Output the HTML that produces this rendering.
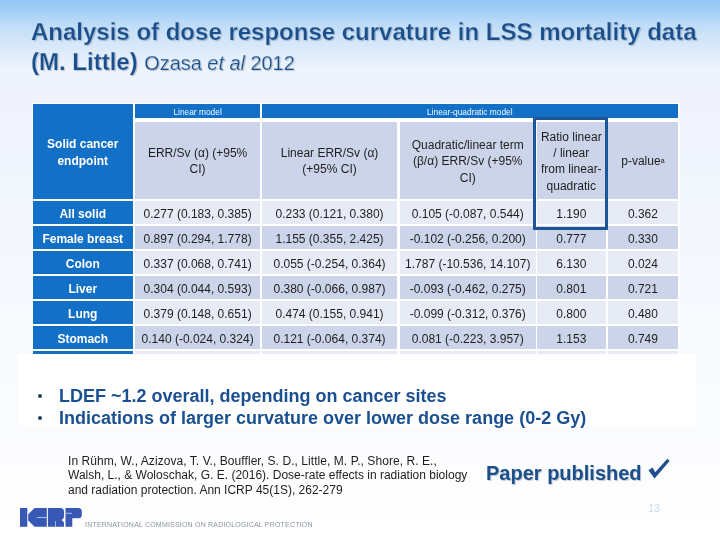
<!DOCTYPE html>
<html><head><meta charset="utf-8"><style>
html,body{margin:0;padding:0;}
body{width:720px;height:540px;position:relative;overflow:hidden;font-family:"Liberation Sans",sans-serif;
background:linear-gradient(to bottom,#92c5f5 0px,#a2cdf6 10px,#b6d8f8 20px,#c6e0f8 30px,#d7e8f9 45px,#e1edfa 55px,#eef4fc 70px,#f0f3fc 100px,#f0f4fd 145px,#f4f8fd 250px,#fbfcfe 445px,#ffffff 530px,#ffffff 540px);}
.c{will-change:transform;position:absolute;display:flex;align-items:center;justify-content:center;text-align:center;font-size:12px;white-space:nowrap;}
.c sup{font-size:7px;vertical-align:2px;}
.t{position:absolute;white-space:nowrap;will-change:transform;}
#title{left:31px;top:16.6px;color:#1a4f8c;-webkit-text-stroke:0.25px rgba(215,232,250,0.8);font-weight:bold;font-size:24px;line-height:29.6px;text-shadow:1px 1px 1px rgba(80,90,110,.35);}
#title .n{font-weight:normal;font-size:19.9px;}
#wbox{position:absolute;left:17.6px;top:353.5px;width:678.4px;height:72.5px;background:#fff;}
.bul{position:absolute;left:0;color:#1b5090;font-weight:bold;font-size:18px;line-height:21.5px;white-space:nowrap;}
.dot{position:absolute;width:4px;height:4px;border-radius:50%;background:#1f3f66;}
#ref{left:67.8px;top:454.4px;font-size:12px;line-height:14.4px;color:#1e1e1e;}
#pp{left:486px;top:462.2px;color:#1a4f8c;font-weight:bold;font-size:20px;text-shadow:1px 1px 1px rgba(80,90,110,.35);}
#pg{left:647.5px;top:502px;color:#c8dae6;font-size:11px;}
#icrpt{left:85px;top:521px;font-size:7px;color:#8a92a2;letter-spacing:0.2px;}
</style></head><body>
<div id="title" class="t">Analysis of dose response curvature in LSS mortality data<br>(M. Little) <span class="n">Ozasa <i>et al</i> 2012</span></div>
<div class="c" style="left:31.5px;top:102.5px;width:647.80px;height:257.50px;background:#fff;"></div>
<div class="c" style="left:33px;top:104px;width:99.50px;height:94.90px;background:#1270c6;color:#fff;font-weight:bold;line-height:17px;padding-top:2.9px;box-sizing:border-box;">Solid cancer<br>endpoint</div>
<div class="c" style="left:134.8px;top:104px;width:125.20px;height:13.80px;background:#1270c6;color:#eefbff;font-size:8.4px;line-height:13.8px;padding-top:4px;box-sizing:border-box;">Linear model</div>
<div class="c" style="left:262.2px;top:104px;width:415.60px;height:13.80px;background:#1270c6;color:#eefbff;font-size:8.4px;line-height:13.8px;padding-top:4px;box-sizing:border-box;">Linear-quadratic model</div>
<div class="c" style="left:134.8px;top:121.7px;width:125.20px;height:77.20px;background:#ccd4ea;color:#1e1e1e;line-height:16.4px;padding-top:1.8px;box-sizing:border-box;">ERR/Sv (&alpha;) (+95%<br>CI)</div>
<div class="c" style="left:262.2px;top:121.7px;width:135.10px;height:77.20px;background:#ccd4ea;color:#1e1e1e;line-height:16.4px;padding-top:1.8px;box-sizing:border-box;">Linear ERR/Sv (&alpha;)<br>(+95% CI)</div>
<div class="c" style="left:399.5px;top:121.7px;width:135.50px;height:77.20px;background:#ccd4ea;color:#1e1e1e;line-height:16.4px;padding-top:1.8px;box-sizing:border-box;">Quadratic/linear term<br>(&beta;/&alpha;) ERR/Sv (+95%<br>CI)</div>
<div class="c" style="left:537.2px;top:121.7px;width:68.60px;height:77.20px;background:#ccd4ea;color:#1e1e1e;line-height:16.4px;padding-top:1.8px;box-sizing:border-box;">Ratio linear<br>/ linear<br>from linear-<br>quadratic</div>
<div class="c" style="left:608px;top:121.7px;width:69.80px;height:77.20px;background:#ccd4ea;color:#1e1e1e;line-height:16.4px;padding-top:1.8px;box-sizing:border-box;">p-value<sup>a</sup></div>
<div class="c" style="left:33px;top:201px;width:99.50px;height:22.70px;background:#1270c6;color:#fff;font-weight:bold;padding-top:2.6px;box-sizing:border-box;">All solid</div>
<div class="c" style="left:134.8px;top:201px;width:125.20px;height:22.70px;background:#e7ebf6;color:#1e1e1e;padding-top:2.6px;box-sizing:border-box;">0.277 (0.183, 0.385)</div>
<div class="c" style="left:262.2px;top:201px;width:135.10px;height:22.70px;background:#e7ebf6;color:#1e1e1e;padding-top:2.6px;box-sizing:border-box;">0.233 (0.121, 0.380)</div>
<div class="c" style="left:399.5px;top:201px;width:135.50px;height:22.70px;background:#e7ebf6;color:#1e1e1e;padding-top:2.6px;box-sizing:border-box;">0.105 (-0.087, 0.544)</div>
<div class="c" style="left:537.2px;top:201px;width:68.60px;height:22.70px;background:#e7ebf6;color:#1e1e1e;padding-top:2.6px;box-sizing:border-box;">1.190</div>
<div class="c" style="left:608px;top:201px;width:69.80px;height:22.70px;background:#e7ebf6;color:#1e1e1e;padding-top:2.6px;box-sizing:border-box;">0.362</div>
<div class="c" style="left:33px;top:226px;width:99.50px;height:22.70px;background:#1270c6;color:#fff;font-weight:bold;padding-top:2.6px;box-sizing:border-box;">Female breast</div>
<div class="c" style="left:134.8px;top:226px;width:125.20px;height:22.70px;background:#ccd4ea;color:#1e1e1e;padding-top:2.6px;box-sizing:border-box;">0.897 (0.294, 1.778)</div>
<div class="c" style="left:262.2px;top:226px;width:135.10px;height:22.70px;background:#ccd4ea;color:#1e1e1e;padding-top:2.6px;box-sizing:border-box;">1.155 (0.355, 2.425)</div>
<div class="c" style="left:399.5px;top:226px;width:135.50px;height:22.70px;background:#ccd4ea;color:#1e1e1e;padding-top:2.6px;box-sizing:border-box;">-0.102 (-0.256, 0.200)</div>
<div class="c" style="left:537.2px;top:226px;width:68.60px;height:22.70px;background:#ccd4ea;color:#1e1e1e;padding-top:2.6px;box-sizing:border-box;">0.777</div>
<div class="c" style="left:608px;top:226px;width:69.80px;height:22.70px;background:#ccd4ea;color:#1e1e1e;padding-top:2.6px;box-sizing:border-box;">0.330</div>
<div class="c" style="left:33px;top:251.2px;width:99.50px;height:22.60px;background:#1270c6;color:#fff;font-weight:bold;padding-top:2.6px;box-sizing:border-box;">Colon</div>
<div class="c" style="left:134.8px;top:251.2px;width:125.20px;height:22.60px;background:#e7ebf6;color:#1e1e1e;padding-top:2.6px;box-sizing:border-box;">0.337 (0.068, 0.741)</div>
<div class="c" style="left:262.2px;top:251.2px;width:135.10px;height:22.60px;background:#e7ebf6;color:#1e1e1e;padding-top:2.6px;box-sizing:border-box;">0.055 (-0.254, 0.364)</div>
<div class="c" style="left:399.5px;top:251.2px;width:135.50px;height:22.60px;background:#e7ebf6;color:#1e1e1e;padding-top:2.6px;box-sizing:border-box;">1.787 (-10.536, 14.107)</div>
<div class="c" style="left:537.2px;top:251.2px;width:68.60px;height:22.60px;background:#e7ebf6;color:#1e1e1e;padding-top:2.6px;box-sizing:border-box;">6.130</div>
<div class="c" style="left:608px;top:251.2px;width:69.80px;height:22.60px;background:#e7ebf6;color:#1e1e1e;padding-top:2.6px;box-sizing:border-box;">0.024</div>
<div class="c" style="left:33px;top:276.2px;width:99.50px;height:22.50px;background:#1270c6;color:#fff;font-weight:bold;padding-top:2.6px;box-sizing:border-box;">Liver</div>
<div class="c" style="left:134.8px;top:276.2px;width:125.20px;height:22.50px;background:#ccd4ea;color:#1e1e1e;padding-top:2.6px;box-sizing:border-box;">0.304 (0.044, 0.593)</div>
<div class="c" style="left:262.2px;top:276.2px;width:135.10px;height:22.50px;background:#ccd4ea;color:#1e1e1e;padding-top:2.6px;box-sizing:border-box;">0.380 (-0.066, 0.987)</div>
<div class="c" style="left:399.5px;top:276.2px;width:135.50px;height:22.50px;background:#ccd4ea;color:#1e1e1e;padding-top:2.6px;box-sizing:border-box;">-0.093 (-0.462, 0.275)</div>
<div class="c" style="left:537.2px;top:276.2px;width:68.60px;height:22.50px;background:#ccd4ea;color:#1e1e1e;padding-top:2.6px;box-sizing:border-box;">0.801</div>
<div class="c" style="left:608px;top:276.2px;width:69.80px;height:22.50px;background:#ccd4ea;color:#1e1e1e;padding-top:2.6px;box-sizing:border-box;">0.721</div>
<div class="c" style="left:33px;top:301.1px;width:99.50px;height:22.60px;background:#1270c6;color:#fff;font-weight:bold;padding-top:2.6px;box-sizing:border-box;">Lung</div>
<div class="c" style="left:134.8px;top:301.1px;width:125.20px;height:22.60px;background:#e7ebf6;color:#1e1e1e;padding-top:2.6px;box-sizing:border-box;">0.379 (0.148, 0.651)</div>
<div class="c" style="left:262.2px;top:301.1px;width:135.10px;height:22.60px;background:#e7ebf6;color:#1e1e1e;padding-top:2.6px;box-sizing:border-box;">0.474 (0.155, 0.941)</div>
<div class="c" style="left:399.5px;top:301.1px;width:135.50px;height:22.60px;background:#e7ebf6;color:#1e1e1e;padding-top:2.6px;box-sizing:border-box;">-0.099 (-0.312, 0.376)</div>
<div class="c" style="left:537.2px;top:301.1px;width:68.60px;height:22.60px;background:#e7ebf6;color:#1e1e1e;padding-top:2.6px;box-sizing:border-box;">0.800</div>
<div class="c" style="left:608px;top:301.1px;width:69.80px;height:22.60px;background:#e7ebf6;color:#1e1e1e;padding-top:2.6px;box-sizing:border-box;">0.480</div>
<div class="c" style="left:33px;top:326.1px;width:99.50px;height:22.60px;background:#1270c6;color:#fff;font-weight:bold;padding-top:2.6px;box-sizing:border-box;">Stomach</div>
<div class="c" style="left:134.8px;top:326.1px;width:125.20px;height:22.60px;background:#ccd4ea;color:#1e1e1e;padding-top:2.6px;box-sizing:border-box;">0.140 (-0.024, 0.324)</div>
<div class="c" style="left:262.2px;top:326.1px;width:135.10px;height:22.60px;background:#ccd4ea;color:#1e1e1e;padding-top:2.6px;box-sizing:border-box;">0.121 (-0.064, 0.374)</div>
<div class="c" style="left:399.5px;top:326.1px;width:135.50px;height:22.60px;background:#ccd4ea;color:#1e1e1e;padding-top:2.6px;box-sizing:border-box;">0.081 (-0.223, 3.957)</div>
<div class="c" style="left:537.2px;top:326.1px;width:68.60px;height:22.60px;background:#ccd4ea;color:#1e1e1e;padding-top:2.6px;box-sizing:border-box;">1.153</div>
<div class="c" style="left:608px;top:326.1px;width:69.80px;height:22.60px;background:#ccd4ea;color:#1e1e1e;padding-top:2.6px;box-sizing:border-box;">0.749</div>
<div class="c" style="left:33px;top:351.1px;width:99.50px;height:22.60px;background:#1270c6;color:#fff;font-weight:bold;padding-top:2.6px;box-sizing:border-box;"></div>
<div class="c" style="left:134.8px;top:351.1px;width:125.20px;height:22.60px;background:#e7ebf6;color:#1e1e1e;padding-top:2.6px;box-sizing:border-box;"></div>
<div class="c" style="left:262.2px;top:351.1px;width:135.10px;height:22.60px;background:#e7ebf6;color:#1e1e1e;padding-top:2.6px;box-sizing:border-box;"></div>
<div class="c" style="left:399.5px;top:351.1px;width:135.50px;height:22.60px;background:#e7ebf6;color:#1e1e1e;padding-top:2.6px;box-sizing:border-box;"></div>
<div class="c" style="left:537.2px;top:351.1px;width:68.60px;height:22.60px;background:#e7ebf6;color:#1e1e1e;padding-top:2.6px;box-sizing:border-box;"></div>
<div class="c" style="left:608px;top:351.1px;width:69.80px;height:22.60px;background:#e7ebf6;color:#1e1e1e;padding-top:2.6px;box-sizing:border-box;"></div>

<div style="position:absolute;left:532.9px;top:117px;width:68.9px;height:106.6px;border:3px solid #1c5696;"></div>
<div id="wbox"></div>
<div class="dot" style="left:38px;top:393.5px"></div>
<div class="dot" style="left:38px;top:415.5px"></div>
<div class="t bul" style="left:59px;top:386px">LDEF ~1.2 overall, depending on cancer sites</div>
<div class="t bul" style="left:59px;top:407.5px">Indications of larger curvature over lower dose range (0-2 Gy)</div>
<div id="ref" class="t"><span style="letter-spacing:0.06px">In Rühm, W., Azizova, T. V., Bouffler, S. D., Little, M. P., Shore, R. E.,</span><br>Walsh, L., &amp; Woloschak, G. E. (2016). Dose-rate effects in radiation biology<br>and radiation protection. Ann ICRP 45(1S), 262-279</div>
<div id="pp" class="t">Paper published</div>
<div id="pg" class="t">13</div>
<svg style="position:absolute;left:0;top:0" width="720" height="540">
<polygon fill="#1f4e8c" points="648.4,470.3 652.6,467.5 655.2,472.2 667.4,458.8 669.6,461.1 654.6,478.6"/>
<g fill="#3858b6">
<rect x="20" y="508" width="7.3" height="18.8"/>
<path d="M34.5,508 H46.8 V526.8 H34.5 L28.2,520.5 V514.3 Z"/>
<path d="M47.9,508 H60.5 Q64,508 64,511.5 V516.5 Q64,518.8 62,519.5 L61.7,520.3 Q64,521.2 64,523 V526.8 H47.9 Z"/>
<path d="M65.5,508 H78.3 Q81.8,508 81.8,511.5 V515 Q81.8,518.3 78.3,518.3 H72.3 V526.8 H65.5 Z"/>
</g>
<g fill="#a8c0f0">
<rect x="36.9" y="517" width="10.2" height="1"/>
<rect x="55" y="521" width="0.9" height="5.8"/>
<rect x="65.7" y="512.8" width="6.1" height="1"/>
</g>
</svg>
<div id="icrpt" class="t">INTERNATIONAL COMMISSION ON RADIOLOGICAL PROTECTION</div>
</body></html>
